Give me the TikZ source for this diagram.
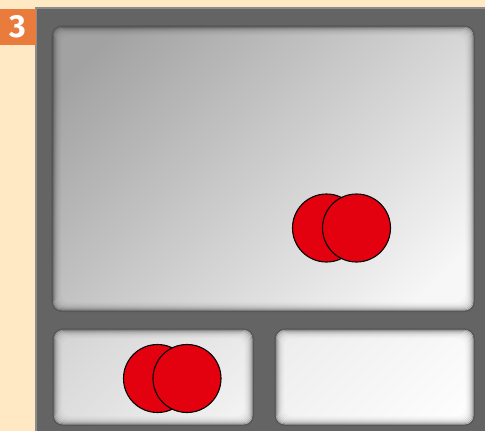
\documentclass[tikz,border=0pt]{standalone}
\usepackage{fontspec}
\setmainfont{Fira Sans}
\usetikzlibrary{positioning}

\definecolor{paper}{HTML}{FFE8C4}
\definecolor{tagorange}{HTML}{E97C3C}
\definecolor{frame}{HTML}{646464}
\definecolor{frameedge}{HTML}{8C8C8C}
\definecolor{rim}{HTML}{575757}
\definecolor{discred}{HTML}{E3000F}
\definecolor{maindark}{HTML}{A2A2A2}
\definecolor{mainlight}{HTML}{F7F7F7}
\definecolor{leftdark}{HTML}{D6D6D6}
\definecolor{leftlight}{HTML}{F2F2F2}
\definecolor{rightdark}{HTML}{EEEEEE}
\definecolor{rightlight}{HTML}{FDFDFD}

\pgfdeclareverticalshading{mainfade}{100bp}{color(0bp)=(mainlight); color(21bp)=(mainlight); color(79bp)=(maindark); color(100bp)=(maindark)}
\pgfdeclareverticalshading{leftfade}{100bp}{color(0bp)=(leftlight); color(21bp)=(leftlight); color(79bp)=(leftdark); color(100bp)=(leftdark)}
\pgfdeclareverticalshading{rightfade}{100bp}{color(0bp)=(rightlight); color(21bp)=(rightlight); color(79bp)=(rightdark); color(100bp)=(rightdark)}

% diagonal gradient clipped to a screen
\newcommand\screenshade[4]{%
  \begin{scope}
    \clip[rounded corners=10pt] (#1.north west) rectangle (#1.south east);
    \begin{scope}[shift={(#1.north west)}, xscale=#2, yscale=#3]
      \shade[shading=#4, shading angle=45] (0,0) rectangle (100,100);
    \end{scope}
  \end{scope}}
% soft dark rim inside a screen
\newcommand\screenglow[1]{%
  \foreach \d/\o in {0.5/0.5,1.5/0.34,2.5/0.24,3.5/0.17,4.5/0.12,5.5/0.08,6.5/0.05,7.5/0.03,8.5/0.02}{
    \draw[black, opacity=\o, line width=1pt, rounded corners=9pt]
      ([xshift=\d pt, yshift=-\d pt]#1.north west) rectangle ([xshift=-\d pt, yshift=\d pt]#1.south east);
  }
  \draw[rim, line width=1.2pt, rounded corners=10pt] (#1.north west) rectangle (#1.south east);}

\begin{document}
\begin{tikzpicture}[
  x=1pt, y=-1pt,
  panel/.style={rectangle, fill=frame, inner sep=0pt, anchor=north west},
  tag/.style={rectangle, fill=tagorange, text=white, font=\bfseries\fontsize{32}{32}\selectfont, inner sep=0pt, anchor=north west, minimum width=36pt, minimum height=36pt},
  screen/.style={rectangle, rounded corners=10pt, inner sep=0pt, anchor=north west},
  disc/.style={circle, draw=black, line width=1.1pt, fill=discred, minimum size=68pt, inner sep=0pt}
]
\useasboundingbox[fill=paper] (0,0) rectangle (485,431);

\node[panel, minimum width=449pt, minimum height=423pt] (frame) at (36,8) {};
\draw[frameedge, line width=1.5pt] (frame.south west) -- (frame.north west) -- (frame.north east);
\node[tag] (step) at (0,9) {3};

\node[screen, minimum width=422pt, minimum height=285pt] (main) at (52,26) {};
\node[screen, minimum width=200pt, minimum height=96pt] (left) at (53,329) {};
\node[screen, minimum width=199pt, minimum height=96pt] (right) at (275,329) {};
\screenshade{main}{4.22}{2.85}{mainfade}
\screenshade{left}{2.00}{0.96}{leftfade}
\screenshade{right}{1.99}{0.96}{rightfade}
\screenglow{main}
\screenglow{left}
\screenglow{right}

\node[disc] (mainA) at (326.5,228) {};
\node[disc] (mainB) at (356.5,228) {};
\node[disc] (leftA) at (157.5,378.5) {};
\node[disc] (leftB) at (187,378.5) {};
\end{tikzpicture}
\end{document}
